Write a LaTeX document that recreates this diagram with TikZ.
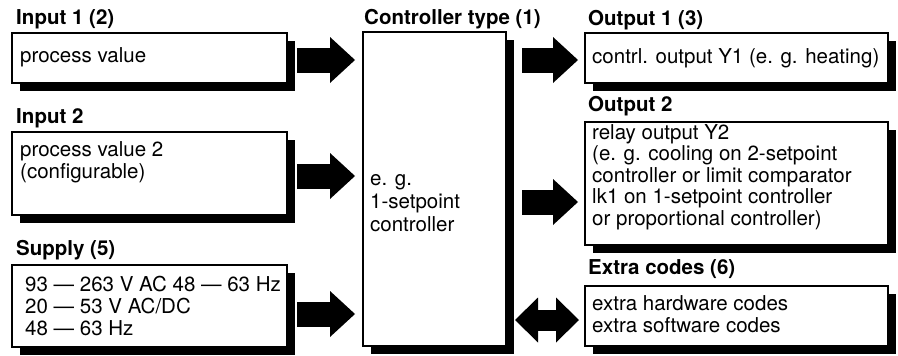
\documentclass[tikz,border=0pt]{standalone}
\usepackage{fontspec}
\setmainfont{TeX Gyre Heros}
\usetikzlibrary{arrows.meta,shadows,calc}
\begin{document}
\begin{tikzpicture}[x=1pt,y=-1pt,
  box/.style={draw=black, line width=1.2pt, fill=white, anchor=north west,
    inner sep=0pt, outer sep=0pt,
    general shadow={fill=black, shadow xshift=8pt, shadow yshift=-8pt}},
  ttl/.style={anchor=base west, inner sep=0pt, font=\fontsize{20.5}{22}\selectfont\bfseries},
  txt/.style={anchor=base west, inner sep=0pt, font=\fontsize{20.5}{22}\selectfont},
  blk/.style={line width=25pt, -{Triangle[length=25pt, width=46pt, line width=0pt]}},
  dblk/.style={line width=21pt,
    {Triangle[length=23pt, width=45pt, line width=0pt]}-{Triangle[length=23pt, width=45pt, line width=0pt]}},
]
\useasboundingbox[fill=white] (0,0) rectangle (898,356);

% boxes
\node[box, minimum width=275pt, minimum height=50pt]  (in1)  at (12,33)  {};
\node[box, minimum width=275pt, minimum height=83pt]  (in2)  at (12,132) {};
\node[box, minimum width=275pt, minimum height=82pt]  (sup)  at (12,265) {};
\node[box, minimum width=143pt, minimum height=314pt] (ctrl) at (363,32) {};
\node[box, minimum width=303pt, minimum height=50pt]  (out1) at (585,33) {};
\node[box, minimum width=303pt, minimum height=123pt] (out2) at (585,122) {};
\node[box, minimum width=303pt, minimum height=60pt]  (ext)  at (585,286) {};

% headings
\node[ttl] (h-in1)  at (16,24)  {Input 1 (2)};
\node[ttl] (h-ctrl) at (364,24) {Controller type (1)};
\node[ttl] (h-out1) at (588,25) {Output 1 (3)};
\node[ttl] (h-in2)  at (16,123) {Input 2};
\node[ttl] (h-out2) at (588,111) {Output 2};
\node[ttl] (h-sup)  at (16,255) {Supply (5)};
\node[ttl] (h-ext)  at (588,274) {Extra codes (6)};

% box contents
\node[txt] (t-in1)  at (20,62)  {process value};
\node[txt] (t-in2a) at (20,156) {process value 2};
\node[txt] (t-in2b) at (20,178) {(configurable)};
\node[txt] (t-supa) at (25,291) {93 — 263 V AC 48 — 63 Hz};
\node[txt] (t-supb) at (25,313) {20 — 53 V AC/DC};
\node[txt] (t-supc) at (25,335) {48 — 63 Hz};
\node[txt] (t-ctla) at (370,185) {e. g.};
\node[txt] (t-ctlb) at (370,208) {1-setpoint};
\node[txt] (t-ctlc) at (370,231) {controller};
\node[txt] (t-out1) at (592,63) {contrl. output Y1 (e. g. heating)};
\node[txt] (t-o2a)  at (592,139) {relay output Y2};
\node[txt] (t-o2b)  at (592,160) {(e. g. cooling on 2-setpoint};
\node[txt] (t-o2c)  at (592,182) {controller or limit comparator};
\node[txt] (t-o2d)  at (592,203) {lk1 on 1-setpoint controller};
\node[txt] (t-o2e)  at (592,225) {or proportional controller)};
\node[txt] (t-exa)  at (592,310) {extra hardware codes};
\node[txt] (t-exb)  at (592,332) {extra software codes};

% block arrows
\draw[blk] ($(in1.east)+(10pt,-2pt)$) -- ($(in1.east -| ctrl.west)+(-8pt,-2pt)$);
\draw[blk] ($(in2.east)+(10pt,-2.5pt)$) -- ($(in2.east -| ctrl.west)+(-8pt,-2.5pt)$);
\draw[blk] ($(sup.east)+(10pt,-8pt)$) -- ($(sup.east -| ctrl.west)+(-8pt,-8pt)$);
\draw[blk] ($(out1.west -| ctrl.east)+(16pt,-2pt)$) -- ($(out1.west)+(-7pt,-2pt)$);
\draw[blk] ($(out2.west -| ctrl.east)+(16pt,-18.5pt)$) -- ($(out2.west)+(-7pt,-18.5pt)$);
\draw[dblk] ($(ext.west -| ctrl.east)+(9pt,-4pt)$) -- ($(ext.west)+(-6pt,-4pt)$);
\end{tikzpicture}
\end{document}
